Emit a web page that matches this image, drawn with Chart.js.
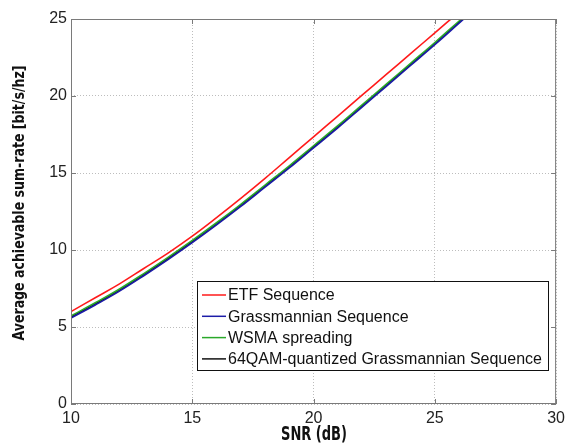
<!DOCTYPE html>
<html>
<head>
<meta charset="utf-8">
<script src="https://cdn.jsdelivr.net/npm/chart.js@4/dist/chart.umd.min.js"></script>
<style>
  html, body { margin: 0; padding: 0; background: #fff; }
  #c { display: block; }
</style>
</head>
<body>
<canvas id="c" width="570" height="444"></canvas>
<script>
// SNR in dB
var snr = [10, 11, 12, 13, 14, 15, 16, 17, 18, 19, 20, 21, 22, 23, 24, 25, 26, 27];
// sum-rate (bit/s/Hz)
var etfSeq   = [6.0, 6.9, 7.8, 8.8, 9.8, 10.9, 12.1, 13.35, 14.65, 16.0, 17.35, 18.7, 20.05, 21.4, 22.75, 24.1, 25.45, 26.8];
var grassSeq = [5.58, 6.43, 7.33, 8.33, 9.38, 10.48, 11.63, 12.83, 14.08, 15.33, 16.63, 17.93, 19.28, 20.63, 21.98, 23.33, 24.73, 26.13];
var wsmaSeq  = [5.72, 6.57, 7.47, 8.47, 9.52, 10.62, 11.77, 12.97, 14.22, 15.47, 16.77, 18.07, 19.42, 20.77, 22.12, 23.47, 24.87, 26.27];
var qamSeq   = [5.65, 6.5, 7.4, 8.4, 9.45, 10.55, 11.7, 12.9, 14.15, 15.4, 16.7, 18.0, 19.35, 20.7, 22.05, 23.4, 24.8, 26.2];

var xTicks = [10, 15, 20, 25, 30];
var yTicks = [0, 5, 10, 15, 20, 25];

var labels = ["ETF Sequence", "Grassmannian Sequence", "WSMA spreading", "64QAM-quantized Grassmannian Sequence"];
var colors = ["#ff1a1a", "#1c1ca8", "#2aa82a", "#111111"];
var series = [etfSeq, grassSeq, wsmaSeq, qamSeq];
var xTitle = "SNR (dB)";
var yTitle = "Average achievable sum-rate [bit/s/hz]";

function pts(ys) {
  return snr.map(function (x, i) { return { x: x, y: ys[i] }; });
}

var datasets = series.map(function (s, i) {
  return {
    label: labels[i],
    data: pts(s),
    borderColor: colors[i],
    backgroundColor: colors[i],
    borderWidth: 1.6,
    pointRadius: 0,
    tension: 0.4,
    fill: false
  };
});

// condensed bold title squeezed to a given width
function squeezedText(ctx, text, cx, cy, width, size, rot) {
  ctx.save();
  ctx.font = "bold " + size + "px 'DejaVu Sans Condensed', 'DejaVu Sans', sans-serif";
  ctx.fillStyle = "#111";
  ctx.textAlign = "center";
  ctx.textBaseline = "middle";
  var w = ctx.measureText(text).width;
  ctx.translate(cx, cy);
  ctx.rotate(rot);
  ctx.scale(width / w, 1);
  ctx.fillText(text, 0, 0);
  ctx.restore();
}

// frame, inner ticks, titles and legend box like the matlab figure
var frameAndLegend = {
  id: "frameAndLegend",
  afterDraw: function (chart) {
    var ctx = chart.ctx;
    var a = chart.chartArea;
    var xs = chart.scales.x, ys = chart.scales.y;
    ctx.save();
    ctx.strokeStyle = "#7a7a7a";
    ctx.lineWidth = 1;
    ctx.strokeRect(a.left + 0.5, a.top + 0.5, a.right - a.left - 1, a.bottom - a.top - 1);
    ctx.beginPath();
    xTicks.forEach(function (t) {
      var px = Math.round(xs.getPixelForValue(t)) + 0.5;
      ctx.moveTo(px, a.bottom); ctx.lineTo(px, a.bottom - 5);
      ctx.moveTo(px, a.top); ctx.lineTo(px, a.top + 5);
    });
    yTicks.forEach(function (t) {
      var py = Math.round(ys.getPixelForValue(t)) + 0.5;
      ctx.moveTo(a.left, py); ctx.lineTo(a.left + 5, py);
      ctx.moveTo(a.right, py); ctx.lineTo(a.right - 5, py);
    });
    ctx.stroke();

    // legend
    var bx = 197, by = 281, bw = 351, bh = 89;
    ctx.fillStyle = "#fff";
    ctx.fillRect(bx, by, bw, bh);
    ctx.strokeStyle = "#111";
    ctx.strokeRect(bx + 0.5, by + 0.5, bw, bh);
    ctx.font = "16px 'Liberation Sans', Arial, sans-serif";
    ctx.textBaseline = "middle";
    chart.data.datasets.forEach(function (d, i) {
      var y = by + 14 + i * 21.3;
      ctx.strokeStyle = d.borderColor;
      ctx.lineWidth = 1.5;
      ctx.beginPath();
      ctx.moveTo(202, y); ctx.lineTo(226, y);
      ctx.stroke();
      ctx.fillStyle = "#111";
      ctx.fillText(d.label, 228, y + 1);
    });
    ctx.restore();

    squeezedText(ctx, yTitle, 20, 203, 275, 16, -Math.PI / 2);
    squeezedText(ctx, xTitle, 314, 435, 66, 19, 0);
  }
};

var tickFont = { family: "'Liberation Sans', Arial, sans-serif", size: 16 };

new Chart(document.getElementById("c"), {
  type: "line",
  data: { datasets: datasets },
  plugins: [frameAndLegend],
  options: {
    responsive: false,
    animation: false,
    layout: { padding: { left: 0, right: 11, top: 19, bottom: 0 } },
    plugins: { legend: { display: false }, tooltip: { enabled: false } },
    scales: {
      x: {
        type: "linear",
        min: 10, max: 30,
        afterBuildTicks: function (s) { s.ticks = xTicks.map(function (v) { return { value: v }; }); },
        afterFit: function (s) { s.height = 40; },
        grid: { color: "#bdbdbd", drawTicks: false, lineWidth: 1 },
        border: { display: false, dash: [1, 2] },
        ticks: { color: "#222", font: tickFont, padding: 5, maxRotation: 0 }
      },
      y: {
        type: "linear",
        min: 0, max: 25,
        afterBuildTicks: function (s) { s.ticks = yTicks.map(function (v) { return { value: v }; }); },
        afterFit: function (s) { s.width = 71; },
        grid: { color: "#bdbdbd", drawTicks: false, lineWidth: 1 },
        border: { display: false, dash: [1, 2] },
        ticks: { color: "#222", font: tickFont, padding: 4 }
      }
    }
  }
});
</script>
</body>
</html>
